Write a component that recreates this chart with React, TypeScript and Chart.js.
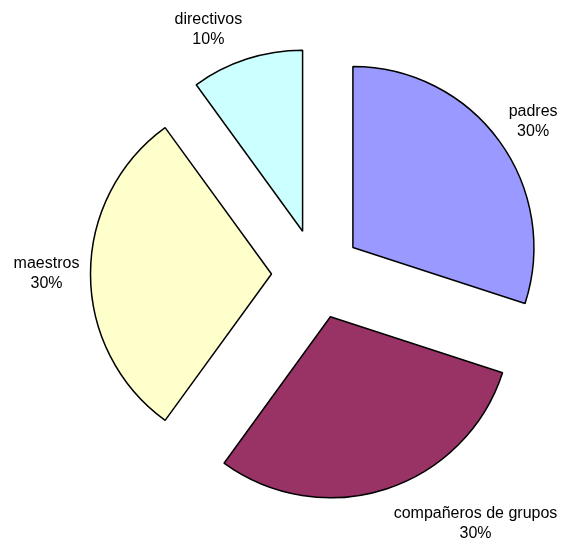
import React, { useEffect, useRef } from "react";
import { Chart, registerables } from "chart.js";

Chart.register(...registerables);

const categories = ["padres", "compañeros de grupos", "maestros", "directivos"];
const values = [30, 30, 30, 10];
const percentLabels = ["30%", "30%", "30%", "10%"];
const colors = ["#9999FF", "#993366", "#FFFFCC", "#CCFFFF"];

const EXPLODE = 45;
const RADIUS = 181;
const LABEL_ANGLE_SHIFT_DEG = [1, -17, 0, -7];
const LABEL_DIST = [220, 253, 225, 223];
const FONT = "16px 'Liberation Sans', Arial, sans-serif";
const LINE_GAP = 20;

const explodePlugin = {
  id: "explodeSlices",
  afterDatasetUpdate(chart: any, args: any) {
    const meta = chart.getDatasetMeta(args.index);
    meta.data.forEach((arc: any) => {
      const mid = (arc.startAngle + arc.endAngle) / 2;
      arc.x += Math.cos(mid) * EXPLODE;
      arc.y += Math.sin(mid) * EXPLODE;
    });
  },
};

const labelPlugin = {
  id: "sliceLabels",
  afterDatasetsDraw(chart: any) {
    const ctx = chart.ctx;
    const meta = chart.getDatasetMeta(0);
    ctx.save();
    ctx.font = FONT;
    ctx.fillStyle = "#000000";
    ctx.textAlign = "center";
    ctx.textBaseline = "middle";
    meta.data.forEach((arc: any, i: number) => {
      const mid =
        (arc.startAngle + arc.endAngle) / 2 +
        (LABEL_ANGLE_SHIFT_DEG[i] * Math.PI) / 180;
      const cx = arc.x + Math.cos(mid) * LABEL_DIST[i];
      const cy = arc.y + Math.sin(mid) * LABEL_DIST[i];
      ctx.fillText(categories[i], cx, cy - LINE_GAP / 2);
      ctx.fillText(percentLabels[i], cx, cy + LINE_GAP / 2);
    });
    ctx.restore();
  },
};

export default function App() {
  const canvasRef = useRef<HTMLCanvasElement | null>(null);

  useEffect(() => {
    const canvas = canvasRef.current;
    if (!canvas) return;
    const chart = new Chart(canvas, {
      type: "pie",
      data: {
        labels: categories,
        datasets: [
          {
            data: values,
            backgroundColor: colors,
            borderColor: "#000000",
            borderWidth: 1.5,
          },
        ],
      },
      options: {
        responsive: false,
        animation: false,
        events: [],
        radius: RADIUS,
        layout: { padding: { left: 69, top: 2, right: 0, bottom: 0 } },
        plugins: {
          legend: { display: false },
          tooltip: { enabled: false },
        },
      },
      plugins: [explodePlugin, labelPlugin],
    } as any);
    return () => chart.destroy();
  }, []);

  return (
    <div
      style={{
        position: "fixed",
        left: 0,
        top: 0,
        width: 564,
        height: 546,
        background: "#ffffff",
      }}
    >
      <canvas ref={canvasRef} width={564} height={546} />
    </div>
  );
}
